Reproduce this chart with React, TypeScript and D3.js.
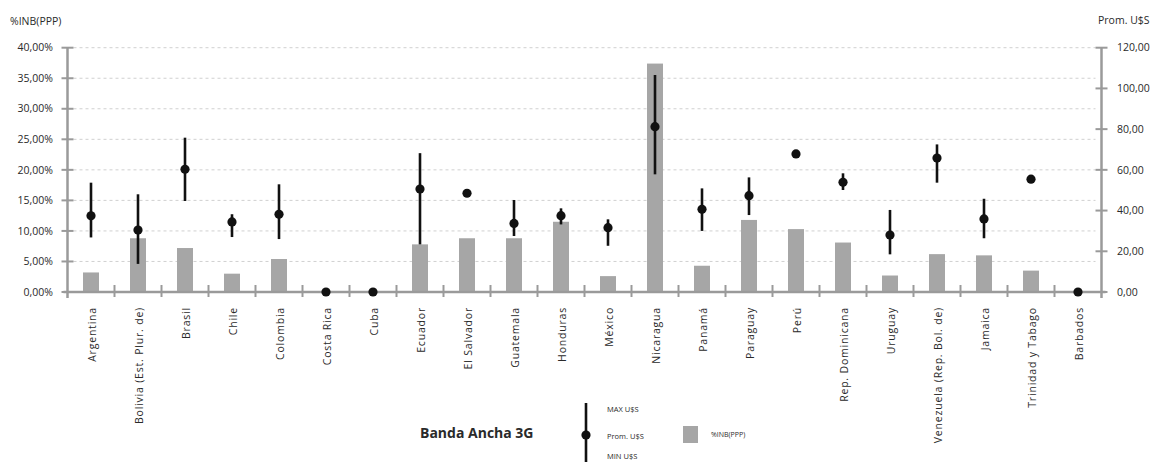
import React from "react";
import * as d3 from "d3";

const countries = [
  "Argentina", "Bolivia (Est. Plur. de)", "Brasil", "Chile", "Colombia", "Costa Rica", "Cuba",
  "Ecuador", "El Salvador", "Guatemala", "Honduras", "México", "Nicaragua", "Panamá",
  "Paraguay", "Perú", "Rep. Dominicana", "Uruguay", "Venezuela (Rep. Bol. de)", "Jamaica",
  "Trinidad y Tabago", "Barbados",
];
const inbPct = [3.2, 8.8, 7.2, 3.0, 5.4, 0, 0, 7.8, 8.8, 8.8, 11.5, 2.6, 37.4, 4.3, 11.8, 10.3, 8.1, 2.7, 6.2, 6.0, 3.5, 0];
const promUsd = [37.4, 30.4, 60.3, 34.4, 38.2, 0, 0, 50.6, 48.5, 33.7, 37.5, 31.6, 81.2, 40.6, 47.3, 67.8, 53.9, 28.0, 65.8, 35.9, 55.4, 0];
const maxUsd: (number | null)[] = [53.7, 48.0, 75.8, 38.2, 52.9, null, null, 68.2, null, 45.2, 41.1, 35.7, 106.6, 50.9, 56.3, null, 58.3, 40.3, 72.5, 45.8, null, null];
const minUsd: (number | null)[] = [26.8, 13.8, 44.7, 27.0, 26.0, null, null, 23.4, null, 27.5, 33.2, 22.7, 57.8, 30.0, 37.8, null, 50.1, 18.5, 53.7, 26.4, null, null];
const leftTicks = [0, 5, 10, 15, 20, 25, 30, 35, 40];
const rightTicks = [0, 20, 40, 60, 80, 100, 120];

const W = 1164, H = 462;
const X0 = 67.5, X1 = 1101.5, Y0 = 292, YT = 47.7;
const AX = "#9a9a9a";
const BAR = "#a6a6a6";
const TXT = "#2a2a2a";
const FONT = "'Open Sans', 'Noto Sans', sans-serif";

export default function App() {
  const x = d3.scaleBand<string>().domain(countries).range([X0, X1]).paddingInner(0).paddingOuter(0);
  const yL = d3.scaleLinear().domain([0, 40]).range([Y0, YT]);
  const yR = d3.scaleLinear().domain([0, 120]).range([Y0, YT]);
  const bw = 16;
  const fmt = (v: number, d: number) => v.toFixed(d).replace(".", ",");

  return (
    <svg width={W} height={H} style={{ position: "absolute", left: 0, top: 0, background: "#fff" }} fontFamily={FONT}>
      {/* axis titles */}
      <text x={10} y={25} fontSize={10.5} fill={TXT}>%INB(PPP)</text>
      <text x={1098} y={24} fontSize={10.5} fill={TXT}>Prom. U$S</text>

      {/* grid */}
      {leftTicks.filter((t) => t > 0).map((t) => (
        <line key={"g" + t} x1={X0 + 6} x2={X1 - 6} y1={yL(t)} y2={yL(t)} stroke="#d0d0d0" strokeWidth={1} strokeDasharray="3,3" />
      ))}

      {/* bars */}
      {countries.map((c, i) => (
        inbPct[i] > 0 ? (
          <rect key={"b" + c} x={x(c)! + x.bandwidth() / 2 - bw / 2} y={yL(inbPct[i])} width={bw} height={Y0 - yL(inbPct[i])} fill={BAR} />
        ) : null
      ))}

      {/* axes */}
      <line x1={X0} x2={X0} y1={YT} y2={Y0 + 6} stroke={AX} strokeWidth={2.5} />
      <line x1={X1} x2={X1} y1={YT} y2={Y0 + 6} stroke={AX} strokeWidth={2.5} />
      <line x1={X0 - 4} x2={X1 + 4} y1={Y0} y2={Y0} stroke={AX} strokeWidth={2.5} />
      {leftTicks.map((t) => (
        <g key={"lt" + t}>
          <line x1={X0 - 6} x2={X0 + 6} y1={yL(t)} y2={yL(t)} stroke={AX} strokeWidth={2} />
          <text x={53} y={yL(t)} dy="0.35em" textAnchor="end" fontSize={10.5} fill={TXT}>{fmt(t, 2)}%</text>
        </g>
      ))}
      {rightTicks.map((t) => (
        <g key={"rt" + t}>
          <line x1={X1 - 6} x2={X1 + 6} y1={yR(t)} y2={yR(t)} stroke={AX} strokeWidth={2} />
          <text x={1117} y={yR(t)} dy="0.35em" textAnchor="start" fontSize={10.5} fill={TXT}>{fmt(t, 2)}</text>
        </g>
      ))}
      {countries.map((c, i) => (
        i > 0 ? <line key={"xt" + c} x1={x(c)!} x2={x(c)!} y1={Y0 - 7} y2={Y0 + 5} stroke={AX} strokeWidth={2} /> : null
      ))}
      {countries.map((c) => {
        const cx = x(c)! + x.bandwidth() / 2;
        return (
          <text key={"xl" + c} transform={`translate(${cx + 1},${307}) rotate(-90)`} dy="0.35em" textAnchor="end" fontSize={10.5} letterSpacing={0.8} fill={TXT}>{c}</text>
        );
      })}

      {/* whiskers + points */}
      {countries.map((c, i) => {
        const cx = x(c)! + x.bandwidth() / 2;
        const mx = maxUsd[i], mn = minUsd[i];
        return (
          <g key={"p" + c}>
            {mx !== null && mn !== null ? (
              <line x1={cx} x2={cx} y1={yR(mx)} y2={yR(mn)} stroke="#111" strokeWidth={2.6} />
            ) : null}
            <circle cx={cx} cy={yR(promUsd[i])} r={4.6} fill="#111" />
          </g>
        );
      })}

      {/* legend */}
      <text x={420} y={438} fontSize={14} fontWeight="bold" fill={TXT}>Banda Ancha 3G</text>
      <line x1={586} x2={586} y1={403} y2={466} stroke="#111" strokeWidth={2.6} />
      <circle cx={586} cy={435} r={4.6} fill="#111" />
      <text x={607} y={409} dy="0.35em" fontSize={7.5} fill={TXT}>MAX U$S</text>
      <text x={607} y={436} dy="0.35em" fontSize={7.5} fill={TXT}>Prom. U$S</text>
      <text x={607} y={456} dy="0.35em" fontSize={7.5} fill={TXT}>MIN U$S</text>
      <rect x={683} y={426} width={15} height={17} fill={BAR} />
      <text x={711} y={435} dy="0.35em" fontSize={7} fill={TXT}>%INB(PPP)</text>
    </svg>
  );
}
